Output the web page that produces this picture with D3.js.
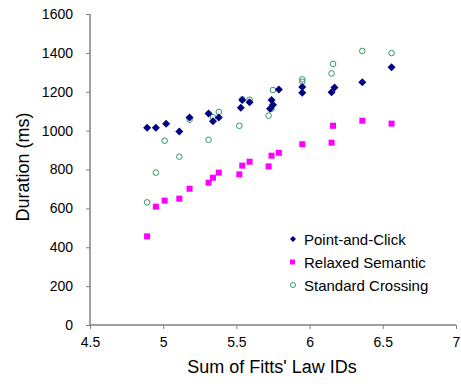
<!doctype html>
<html>
<head>
    <script src="https://d3js.org/d3.v7.min.js"></script>
    <style>
        body { margin: 0; background: #fff; }
        text { font-family: "Liberation Sans", Arial, sans-serif; fill: #000; }
    </style>
</head>
<body>
    <script>
        var width = 461;
        var height = 388;

        // series names
        var seriesNames = ["Point-and-Click", "Relaxed Semantic", "Standard Crossing"];

        // Point-and-Click [sum of IDs, duration]
        var pointClick = [[4.89,1015],[4.95,1015],[5.02,1035],[5.11,995],[5.18,1068],[5.31,1088],
                          [5.34,1048],[5.38,1068],[5.53,1118],[5.54,1157],[5.59,1146],[5.73,1112],
                          [5.74,1157],[5.75,1133],[5.79,1212],[5.95,1225],[5.95,1195],[6.15,1197],
                          [6.17,1222],[6.36,1249],[6.56,1326]];

        // Relaxed Semantic
        var relaxed = [[4.89,456],[4.95,609],[5.01,640],[5.11,650],[5.18,701],[5.31,732],
                       [5.34,758],[5.38,784],[5.52,775],[5.54,820],[5.59,840],[5.72,816],
                       [5.74,871],[5.79,886],[5.95,930],[6.15,938],[6.16,1025],[6.36,1051],
                       [6.56,1036]];

        // Standard Crossing
        var crossing = [[4.89,631],[4.95,784],[5.01,948],[5.11,866],[5.18,1056],[5.31,953],
                        [5.34,1069],[5.38,1096],[5.52,1025],[5.54,1161],[5.59,1159],[5.72,1077],
                        [5.74,1113],[5.75,1209],[5.95,1264],[5.95,1252],[6.15,1294],[6.16,1343],
                        [6.36,1410],[6.56,1399]];

        var xTicks = [4.5, 5, 5.5, 6, 6.5, 7];
        var yTicks = [0, 200, 400, 600, 800, 1000, 1200, 1400, 1600];

        var x = d3.scaleLinear().domain([4.5, 7]).range([90, 456]);
        var y = d3.scaleLinear().domain([0, 1600]).range([325, 14]);

        var svg = d3.select("body")
                    .append("svg")
                    .attr("width", width)
                    .attr("height", height);

        // axes
        var xAxis = svg.append("g")
                       .attr("transform", "translate(0,325)")
                       .call(d3.axisBottom(x).tickValues(xTicks).tickSize(4).tickPadding(8)
                             .tickFormat(function(d){ return d; }));
        var yAxis = svg.append("g")
                       .attr("transform", "translate(90,0)")
                       .call(d3.axisLeft(y).tickValues(yTicks).tickSize(4).tickPadding(13)
                             .tickFormat(d3.format("d")));

        [xAxis, yAxis].forEach(function(a){
            a.select(".domain").attr("stroke", "#808080").attr("stroke-width", 1.5);
            a.selectAll(".tick line").attr("stroke", "#808080");
            a.selectAll(".tick text").style("font-size", "14px").style("font-family", "Liberation Sans, Arial, sans-serif");
        });
        // plain axis lines without the end caps
        xAxis.select(".domain").attr("d", "M90,0H456");
        yAxis.select(".domain").attr("d", "M0,325V14");

        // axis titles
        svg.append("text")
           .attr("x", 272)
           .attr("y", 373)
           .attr("text-anchor", "middle")
           .style("font-size", "18px")
           .text("Sum of Fitts' Law IDs");

        svg.append("text")
           .attr("transform", "translate(29,167) rotate(-90)")
           .attr("text-anchor", "middle")
           .style("font-size", "18px")
           .text("Duration (ms)");

        var diamond = "M0,-4L4,0L0,4L-4,0Z";

        // Standard Crossing (open circles)
        svg.selectAll("circle.sc")
           .data(crossing)
           .enter()
           .append("circle")
           .attr("class", "sc")
           .attr("cx", function(d){ return x(d[0]); })
           .attr("cy", function(d){ return y(d[1]); })
           .attr("r", 2.8)
           .attr("fill", "none")
           .attr("stroke", "#339966")
           .attr("stroke-width", 1);

        // Relaxed Semantic (squares)
        svg.selectAll("rect.rs")
           .data(relaxed)
           .enter()
           .append("rect")
           .attr("class", "rs")
           .attr("x", function(d){ return x(d[0]) - 3; })
           .attr("y", function(d){ return y(d[1]) - 3; })
           .attr("width", 6)
           .attr("height", 6)
           .attr("fill", "#ff00ff");

        // Point-and-Click (diamonds)
        svg.selectAll("path.pc")
           .data(pointClick)
           .enter()
           .append("path")
           .attr("class", "pc")
           .attr("d", diamond)
           .attr("transform", function(d){ return "translate(" + x(d[0]) + "," + y(d[1]) + ")"; })
           .attr("fill", "#000080");

        // legend
        var legend = svg.append("g");
        var rowY = [239, 262, 285];

        legend.append("path")
              .attr("d", "M0,-3L3,0L0,3L-3,0Z")
              .attr("transform", "translate(293," + rowY[0] + ")")
              .attr("fill", "#000080");
        legend.append("rect")
              .attr("x", 290).attr("y", rowY[1] - 2.5)
              .attr("width", 5).attr("height", 5)
              .attr("fill", "#ff00ff");
        legend.append("circle")
              .attr("cx", 293).attr("cy", rowY[2])
              .attr("r", 2.5)
              .attr("fill", "none")
              .attr("stroke", "#339966");

        legend.selectAll("text")
              .data(seriesNames)
              .enter()
              .append("text")
              .attr("x", 304)
              .attr("y", function(d, i){ return rowY[i] + 5.5; })
              .style("font-size", "15px")
              .text(function(d){ return d; });
    </script>
</body>
</html>
